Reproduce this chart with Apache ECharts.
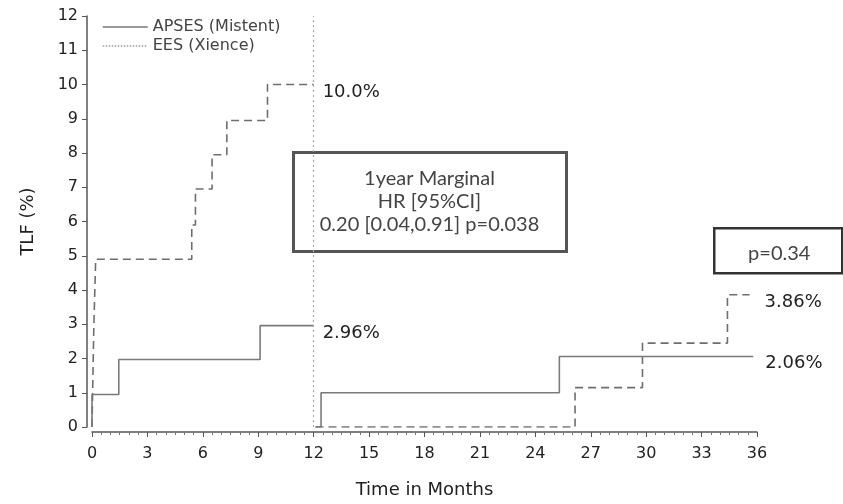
<!DOCTYPE html>
<html>
<head>
<meta charset="utf-8">
<script src="https://cdn.jsdelivr.net/npm/echarts@6/dist/echarts.min.js"></script>
<style>
  html, body { margin: 0; padding: 0; background: #fff; }
  #chart { width: 843px; height: 504px; }
</style>
</head>
<body>
<div id="chart"></div>
<script>
// step times (months) and cumulative TLF (%) after each step
var apsesYear1Time = [0, 0, 1.45, 9.1, 12];
var apsesYear1Tlf = [0, 0.95, 1.97, 2.96, 2.96];
var eesYear1Time = [0, 0.1, 0.2, 5.4, 5.6, 6.5, 7.3, 9.5, 12];
var eesYear1Tlf = [0, 2.95, 4.9, 5.9, 6.95, 7.95, 8.95, 10.0, 10.0];
// landmark analysis from 12 months
var apsesLandTime = [12.1, 12.4, 25.3, 35.8];
var apsesLandTlf = [0, 1.0, 2.06, 2.06];
var eesLandTime = [12.1, 26.15, 29.8, 34.4, 35.6];
var eesLandTlf = [0, 1.15, 2.45, 3.86, 3.86];

var endLabels = ['2.96%', '10.0%', '2.06%', '3.86%'];
var seriesNames = ['APSES (Mistent)', 'EES (Xience)'];
var landmarkMonth = 12;
var boxLines = ['1year Marginal', 'HR [95%CI]', '0.20 [0.04,0.91] p=0.038'];
var pText = 'p=0.34';

function pairs(t, v) {
  return t.map(function (x, i) { return [x, v[i]]; });
}

var solidStyle = { color: '#7a7a7a', width: 1.6, type: 'solid' };
var dashStyle = { color: '#6e6e6e', width: 1.6, type: [8, 5] };
var txtFont = 'DejaVu Sans';

function endLbl(txt, dx, dy) {
  return {
    show: true,
    formatter: function () { return txt; },
    distance: 0,
    offset: [dx, dy],
    fontFamily: txtFont,
    fontSize: 18,
    color: '#222'
  };
}

var myChart = echarts.init(document.getElementById('chart'));

var option = {
  animation: false,
  grid: { left: 92, right: 86, top: 16, bottom: 76, containLabel: false },
  legend: {
    orient: 'vertical',
    left: 97,
    top: 14,
    itemWidth: 45,
    itemHeight: 12,
    itemGap: 3,
    textStyle: { fontFamily: txtFont, fontSize: 16, color: '#444' },
    data: [
      {
        name: seriesNames[0],
        itemStyle: { color: 'rgba(0,0,0,0)', borderWidth: 0 },
        lineStyle: { color: '#777', width: 1.5, type: 'solid' }
      },
      {
        name: seriesNames[1],
        itemStyle: { color: 'rgba(0,0,0,0)', borderWidth: 0 },
        lineStyle: { color: '#999', width: 1.5, type: 'dotted' }
      }
    ]
  },
  xAxis: {
    type: 'value',
    min: 0,
    max: 36,
    interval: 3,
    offset: 5,
    name: 'Time in Months',
    nameLocation: 'middle',
    nameGap: 49,
    nameTextStyle: { fontFamily: txtFont, fontSize: 18, color: '#222' },
    axisLine: { show: true, onZero: false, lineStyle: { color: '#555', width: 1.5 } },
    axisTick: { show: true, length: 5, lineStyle: { color: '#555' } },
    minorTick: { show: true, splitNumber: 6, length: 3, lineStyle: { color: '#777' } },
    axisLabel: { margin: 14, fontFamily: txtFont, fontSize: 16, color: '#222' },
    splitLine: { show: false }
  },
  yAxis: {
    type: 'value',
    min: 0,
    max: 12,
    interval: 1,
    offset: 5,
    name: 'TLF (%)',
    nameLocation: 'middle',
    nameGap: 50,
    nameTextStyle: { fontFamily: txtFont, fontSize: 18, color: '#222' },
    axisLine: { show: true, onZero: false, lineStyle: { color: '#555', width: 1.5 } },
    axisTick: { show: true, length: 5, lineStyle: { color: '#555' } },
    axisLabel: { margin: 9, fontFamily: txtFont, fontSize: 16, color: '#222' },
    splitLine: { show: false }
  },
  series: [
    {
      name: seriesNames[0],
      type: 'line',
      step: 'end',
      symbol: 'none',
      color: '#7a7a7a',
      lineStyle: solidStyle,
      data: pairs(apsesYear1Time, apsesYear1Tlf),
      endLabel: endLbl(endLabels[0], 9, 8),
      markLine: {
        silent: true,
        symbol: 'none',
        label: { show: false },
        lineStyle: { color: '#aaa', width: 1.2, type: [2, 3] },
        data: [{ xAxis: landmarkMonth }]
      },
      z: 3
    },
    {
      name: seriesNames[1],
      type: 'line',
      step: 'end',
      symbol: 'none',
      color: '#6e6e6e',
      lineStyle: dashStyle,
      data: pairs(eesYear1Time, eesYear1Tlf),
      endLabel: endLbl(endLabels[1], 9, 8),
      z: 2
    },
    {
      name: seriesNames[0],
      type: 'line',
      step: 'end',
      symbol: 'none',
      color: '#7a7a7a',
      lineStyle: solidStyle,
      data: pairs(apsesLandTime, apsesLandTlf),
      endLabel: endLbl(endLabels[2], 12, 7),
      z: 3
    },
    {
      name: seriesNames[1],
      type: 'line',
      step: 'end',
      symbol: 'none',
      color: '#6e6e6e',
      lineStyle: dashStyle,
      data: pairs(eesLandTime, eesLandTlf),
      endLabel: endLbl(endLabels[3], 15, 8),
      z: 2
    }
  ],
  graphic: [
    {
      type: 'group',
      left: 292,
      top: 151,
      z: 10,
      children: [
        {
          type: 'rect',
          shape: { x: 0, y: 0, width: 273, height: 99 },
          style: { fill: 'rgba(255,255,255,0)', stroke: '#555', lineWidth: 3 }
        },
        {
          type: 'text',
          x: 136,
          y: 49,
          style: {
            text: boxLines.join('\n'),
            align: 'center',
            verticalAlign: 'middle',
            lineHeight: 23,
            fontFamily: 'Lato',
            fontSize: 20,
            fill: '#444'
          }
        }
      ]
    },
    {
      type: 'group',
      left: 713,
      top: 227,
      z: 10,
      children: [
        {
          type: 'rect',
          shape: { x: 0, y: 0, width: 128, height: 45 },
          style: { fill: '#fff', stroke: '#333', lineWidth: 2.5 }
        },
        {
          type: 'text',
          x: 65,
          y: 25,
          style: {
            text: pText,
            align: 'center',
            verticalAlign: 'middle',
            fontFamily: 'Lato',
            fontSize: 20,
            fill: '#444'
          }
        }
      ]
    }
  ]
};

myChart.setOption(option);
</script>
</body>
</html>
